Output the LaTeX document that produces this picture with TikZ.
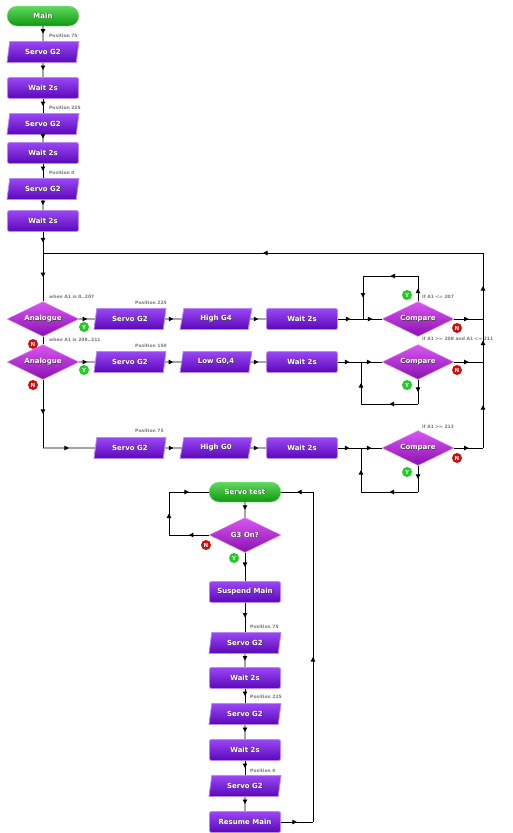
\documentclass[tikz,border=0pt]{standalone}
\usepackage{fontspec}
\setmainfont{DejaVu Sans}
\usetikzlibrary{shapes.geometric,shapes.misc,arrows.meta,decorations.markings}
\definecolor{pTop}{HTML}{9A48F5}
\definecolor{pBot}{HTML}{5A08B8}
\definecolor{pEdge}{HTML}{B888F5}
\definecolor{dTop}{HTML}{D858F0}
\definecolor{dBot}{HTML}{8A10B0}
\definecolor{gTop}{HTML}{60D860}
\definecolor{gBot}{HTML}{10980E}
\definecolor{lblgray}{HTML}{7A7A7A}
\definecolor{yesg}{HTML}{22CC22}
\definecolor{nored}{HTML}{CC1010}
\newcommand\shtxt[1]{\rlap{\kern0.6pt\raisebox{-0.6pt}{\textcolor{black!75}{#1}}}#1}
\tikzset{
 txt/.style={text=white,font=\bfseries\fontsize{7}{8}\selectfont},
 procbox/.style={txt,rectangle,rounded corners=2pt,minimum width=71,minimum height=21,top color=pTop,bottom color=pBot,draw=pEdge,line width=0.8pt,inner sep=0pt},
 iobox/.style={txt,trapezium,trapezium left angle=76,trapezium right angle=104,trapezium stretches=true,minimum width=72,minimum height=21,top color=pTop,bottom color=pBot,draw=pEdge,line width=0.8pt,inner sep=0pt},
 decbox/.style={txt,diamond,aspect=2,minimum width=72,minimum height=35,top color=dTop,bottom color=dBot,draw=dTop!60,inner sep=0pt},
 termbox/.style={txt,rounded rectangle,minimum width=72,minimum height=20,top color=gTop,bottom color=gBot,draw=gTop!60,inner sep=0pt},
 lbl/.style={text=lblgray,font=\bfseries\fontsize{4.5}{5}\selectfont,anchor=west,inner sep=0pt},
 badge/.style={circle,inner sep=0pt,minimum size=10,text=white,font=\bfseries\fontsize{5.5}{6}\selectfont},
 ybadge/.style={badge,fill=yesg},
 nbadge/.style={badge,fill=nored},
 wire/.style={line width=0.9pt,black},
 ma/.style={postaction={decorate},decoration={markings,mark=at position #1 with {\arrow{Triangle[length=4.5pt,width=4.5pt]}}}},
 ma/.default=0.5,
}
\begin{document}
\begin{tikzpicture}[x=1pt,y=-1pt]
\useasboundingbox[fill=white] (0,0) rectangle (513,833);
% ---------- Main column ----------
\node[termbox] (main) at (43,16) {\shtxt{Main}};
\node[iobox] (s1) at (43,52) {\shtxt{Servo G2}};
\node[procbox] (w1) at (43,88) {\shtxt{Wait 2s}};
\node[iobox] (s2) at (43,124) {\shtxt{Servo G2}};
\node[procbox] (w2) at (43,153) {\shtxt{Wait 2s}};
\node[iobox] (s3) at (43,189) {\shtxt{Servo G2}};
\node[procbox] (w3) at (43,221) {\shtxt{Wait 2s}};
\coordinate (j0) at (43,253);
\node[decbox] (a1) at (43,319) {\shtxt{Analogue}};
\node[decbox] (a2) at (43,362) {\shtxt{Analogue}};
% row 1
\node[iobox] (r1s) at (130,319) {\shtxt{Servo G2}};
\node[iobox] (r1h) at (216,319) {\shtxt{High G4}};
\node[procbox] (r1w) at (302,319) {\shtxt{Wait 2s}};
\coordinate (j1) at (363,319);
\node[decbox] (c1) at (418,319) {\shtxt{Compare}};
\coordinate (t1) at (418,276);
\coordinate (u1) at (363,276);
\coordinate (rr1) at (483,319);
% row 2
\node[iobox] (r2s) at (130,362) {\shtxt{Servo G2}};
\node[iobox] (r2l) at (216,362) {\shtxt{Low G0,4}};
\node[procbox] (r2w) at (302,362) {\shtxt{Wait 2s}};
\coordinate (j2) at (361,362);
\node[decbox] (c2) at (418,362) {\shtxt{Compare}};
\coordinate (b2) at (418,404);
\coordinate (v2) at (361,404);
\coordinate (rr2) at (483,362);
% row 3
\coordinate (k3) at (43,448);
\node[iobox] (r3s) at (130,448) {\shtxt{Servo G2}};
\node[iobox] (r3h) at (216,448) {\shtxt{High G0}};
\node[procbox] (r3w) at (302,448) {\shtxt{Wait 2s}};
\coordinate (j3) at (361,448);
\node[decbox] (c3) at (418,448) {\shtxt{Compare}};
\coordinate (b3) at (418,492);
\coordinate (v3) at (361,492);
\coordinate (rr3) at (483,448);
\coordinate (rt) at (483,253);
% ---------- Servo test ----------
\node[termbox] (st) at (245,492) {\shtxt{Servo test}};
\node[decbox] (g3) at (245,535) {\shtxt{G3 On?}};
\node[procbox] (su) at (245,592) {\shtxt{Suspend Main}};
\node[iobox] (ts1) at (245,643) {\shtxt{Servo G2}};
\node[procbox] (tw1) at (245,678) {\shtxt{Wait 2s}};
\node[iobox] (ts2) at (245,714) {\shtxt{Servo G2}};
\node[procbox] (tw2) at (245,750) {\shtxt{Wait 2s}};
\node[iobox] (ts3) at (245,786) {\shtxt{Servo G2}};
\node[procbox] (rm) at (245,822) {\shtxt{Resume Main}};
\coordinate (l1) at (169,535);
\coordinate (l2) at (169,492);
\coordinate (q1) at (313,822);
\coordinate (q2) at (313,492);
% ---------- wires ----------
\draw[wire,ma] (main) -- (s1);
\draw[wire,ma] (s1) -- (w1);
\draw[wire,ma] (w1) -- (s2);
\draw[wire,ma] (s2) -- (w2);
\draw[wire,ma] (w2) -- (s3);
\draw[wire,ma] (s3) -- (w3);
\draw[wire,ma] (w3) -- (j0);
\draw[wire,ma] (j0) -- (a1.north);
\draw[wire] (a1.south) -- (a2.north);
\draw[wire,ma] (a1.east) -- (r1s);
\draw[wire,ma] (r1s) -- (r1h);
\draw[wire,ma] (r1h) -- (r1w);
\draw[wire,ma] (r1w) -- (j1);
\draw[wire,ma] (j1) -- (c1.west);
\draw[wire,ma] (c1.north) -- (t1);
\draw[wire,ma] (t1) -- (u1);
\draw[wire,ma] (u1) -- (j1);
\draw[wire,ma] (c1.east) -- (rr1);
\draw[wire,ma] (a2.east) -- (r2s);
\draw[wire,ma] (r2s) -- (r2l);
\draw[wire,ma] (r2l) -- (r2w);
\draw[wire,ma] (r2w) -- (j2);
\draw[wire,ma] (j2) -- (c2.west);
\draw[wire,ma] (c2.south) -- (b2);
\draw[wire,ma] (b2) -- (v2);
\draw[wire,ma] (v2) -- (j2);
\draw[wire,ma] (c2.east) -- (rr2);
\draw[wire,ma] (a2.south) -- (k3);
\draw[wire,ma] (k3) -- (r3s);
\draw[wire,ma] (r3s) -- (r3h);
\draw[wire,ma] (r3h) -- (r3w);
\draw[wire,ma] (r3w) -- (j3);
\draw[wire,ma] (j3) -- (c3.west);
\draw[wire,ma] (c3.south) -- (b3);
\draw[wire,ma] (b3) -- (v3);
\draw[wire,ma] (v3) -- (j3);
\draw[wire,ma] (c3.east) -- (rr3);
\draw[wire,ma] (rr3) -- (rr2);
\draw[wire,ma] (rr2) -- (rr1);
\draw[wire,ma] (rr1) -- (rt);
\draw[wire,ma] (rt) -- (j0);
% servo test wires
\draw[wire,ma] (st) -- (g3);
\draw[wire,ma] (g3.west) -- (l1);
\draw[wire,ma] (l1) -- (l2);
\draw[wire,ma] (l2) -- (st.west);
\draw[wire,ma] (g3.south) -- (su);
\draw[wire,ma] (su) -- (ts1);
\draw[wire,ma] (ts1) -- (tw1);
\draw[wire,ma] (tw1) -- (ts2);
\draw[wire,ma] (ts2) -- (tw2);
\draw[wire,ma] (tw2) -- (ts3);
\draw[wire,ma] (ts3) -- (rm);
\draw[wire,ma] (rm.east) -- (q1);
\draw[wire,ma] (q1) -- (q2);
\draw[wire,ma] (q2) -- (st.east);
% ---------- labels ----------
\node[lbl] (p1) at (49,36) {Position 75};
\node[lbl] (p2) at (49,108) {Position 225};
\node[lbl] (p3) at (49,173) {Position 0};
\node[lbl] (wa1) at (49,297) {when A1 is 0..207};
\node[lbl] (wa2) at (49,340) {when A1 is 208..211};
\node[lbl] (pr1) at (135,303) {Position 225};
\node[lbl] (pr2) at (135,346) {Position 150};
\node[lbl] (pr3) at (135,431) {Position 75};
\node[lbl] (if1) at (422,297) {if A1 <= 207};
\node[lbl] (if2) at (422,339) {if A1 >= 208 and A1 <= 211};
\node[lbl] (if3) at (422,427) {if A1 >= 212};
\node[lbl] (pt1) at (250,627) {Position 75};
\node[lbl] (pt2) at (250,697) {Position 225};
\node[lbl] (pt3) at (250,771) {Position 0};
% ---------- badges ----------
\node[ybadge] (ya1) at (84,327) {Y};
\node[nbadge] (na1) at (33,344) {N};
\node[ybadge] (ya2) at (84,370) {Y};
\node[nbadge] (na2) at (33,385) {N};
\node[ybadge] (yc1) at (407,295) {Y};
\node[nbadge] (nc1) at (457,328) {N};
\node[ybadge] (yc2) at (407,385) {Y};
\node[nbadge] (nc2) at (457,370) {N};
\node[ybadge] (yc3) at (407,472) {Y};
\node[nbadge] (nc3) at (457,458) {N};
\node[nbadge] (ng3) at (206,545) {N};
\node[ybadge] (yg3) at (234,558) {Y};
\end{tikzpicture}
\end{document}
